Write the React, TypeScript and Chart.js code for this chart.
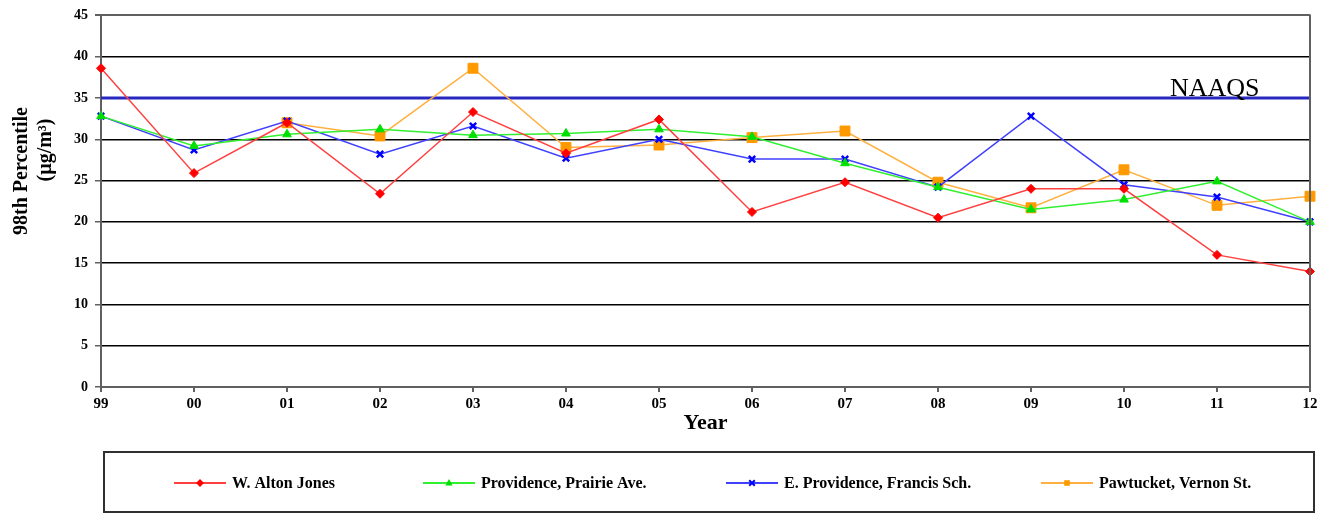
import React, { useEffect, useRef } from 'react';
import { Chart, registerables } from 'chart.js';

Chart.register(...registerables);

const years = ['99', '00', '01', '02', '03', '04', '05', '06', '07', '08', '09', '10', '11', '12'];
const altonJones = [38.6, 25.9, 32.0, 23.4, 33.3, 28.3, 32.4, 21.2, 24.8, 20.5, 24.0, 24.0, 16.0, 14.0];
const prairieAve = [32.8, 29.2, 30.6, 31.2, 30.5, 30.7, 31.2, 30.3, 27.1, 24.2, 21.5, 22.7, 24.9, 20.0];
const francisSch = [32.8, 28.7, 32.2, 28.2, 31.6, 27.7, 30.0, 27.6, 27.6, 24.2, 32.8, 24.5, 23.0, 20.0];
const vernonSt = [null, null, 32.0, 30.4, 38.6, 29.0, 29.3, 30.2, 31.0, 24.8, 21.7, 26.3, 22.0, 23.1];
const seriesLabels = ['W. Alton Jones', 'Providence, Prairie Ave.', 'E. Providence, Francis Sch.', 'Pawtucket, Vernon St.'];
const naaqsLevel = 35;
const naaqsLabel = 'NAAQS';
const yTitleLines = ['98th Percentile', '(\u00b5g/m\u00b3)'];
const xTitle = 'Year';

const SERIF = '"Liberation Serif", "Times New Roman", serif';

function drawMarker(ctx: CanvasRenderingContext2D, style: string, x: number, y: number, r: number, color: string) {
  ctx.save();
  ctx.fillStyle = color;
  ctx.strokeStyle = color;
  ctx.beginPath();
  if (style === 'rectRot') {
    ctx.moveTo(x, y - r); ctx.lineTo(x + r, y); ctx.lineTo(x, y + r); ctx.lineTo(x - r, y); ctx.closePath(); ctx.fill();
  } else if (style === 'triangle') {
    ctx.moveTo(x, y - r); ctx.lineTo(x + r * 0.9, y + r * 0.6); ctx.lineTo(x - r * 0.9, y + r * 0.6); ctx.closePath(); ctx.fill();
  } else if (style === 'crossRot') {
    ctx.lineWidth = 2;
    ctx.moveTo(x - r * 0.7, y - r * 0.7); ctx.lineTo(x + r * 0.7, y + r * 0.7);
    ctx.moveTo(x + r * 0.7, y - r * 0.7); ctx.lineTo(x - r * 0.7, y + r * 0.7); ctx.stroke();
  } else {
    ctx.rect(x - r * 0.7, y - r * 0.7, r * 1.4, r * 1.4); ctx.fill();
  }
  ctx.restore();
}

const legendStarts = [174, 423, 726, 1041];

const decorPlugin = {
  id: 'decor',
  afterDraw(chart: any) {
    const { ctx, chartArea, scales } = chart;
    ctx.save();
    // right border
    ctx.strokeStyle = '#606060';
    ctx.lineWidth = 2;
    ctx.beginPath();
    ctx.moveTo(chartArea.right, chartArea.top - 1);
    ctx.lineTo(chartArea.right, chartArea.bottom);
    ctx.stroke();

    // NAAQS label
    const yN = scales.y.getPixelForValue(naaqsLevel);
    ctx.font = '26px ' + SERIF;
    ctx.fillStyle = '#000';
    ctx.textAlign = 'left';
    ctx.textBaseline = 'alphabetic';
    ctx.fillText(naaqsLabel, chartArea.right - 140, yN - 2);

    // Y title
    ctx.font = 'bold 20px ' + SERIF;
    ctx.textAlign = 'center';
    ctx.textBaseline = 'middle';
    const yCenters = [171, 150];
    const xCenters = [22, 46];
    yTitleLines.forEach((line, i) => {
      ctx.save();
      ctx.translate(xCenters[i], yCenters[i]);
      ctx.rotate(-Math.PI / 2);
      ctx.fillText(line, 0, 0);
      ctx.restore();
    });

    // Legend box
    const boxL = 104, boxT = 452, boxR = 1314, boxB = 512;
    ctx.strokeStyle = '#303030';
    ctx.lineWidth = 2;
    ctx.strokeRect(boxL, boxT, boxR - boxL, boxB - boxT);
    const cy = 483;
    chart.data.datasets.slice(0, 4).forEach((ds: any, i: number) => {
      const x0 = legendStarts[i];
      ctx.strokeStyle = ds.borderColor;
      ctx.lineWidth = 2;
      ctx.beginPath();
      ctx.moveTo(x0, cy);
      ctx.lineTo(x0 + 52, cy);
      ctx.stroke();
      drawMarker(ctx, ds.pointStyle, x0 + 26, cy, 4, ds.pointBackgroundColor);
      ctx.font = 'bold 16px ' + SERIF;
      ctx.fillStyle = '#000';
      ctx.textAlign = 'left';
      ctx.textBaseline = 'middle';
      ctx.fillText(ds.label, x0 + 58, cy + 1);
    });
    ctx.restore();
  },
};

export default function App() {
  const ref = useRef<HTMLCanvasElement | null>(null);
  useEffect(() => {
    if (!ref.current) return;
    const chart = new Chart(ref.current, {
      type: 'line',
      data: {
        labels: years,
        datasets: [
          {
            label: seriesLabels[0], data: altonJones,
            borderColor: '#ff4040', backgroundColor: '#ff0000', borderWidth: 1.5,
            pointStyle: 'rectRot', pointRadius: 4.5, pointBackgroundColor: '#ff0000', pointBorderColor: '#ff0000', pointBorderWidth: 1,
          },
          {
            label: seriesLabels[1], data: prairieAve,
            borderColor: '#30f030', backgroundColor: '#00e000', borderWidth: 1.5,
            pointStyle: 'triangle', pointRadius: 5, pointBackgroundColor: '#00e000', pointBorderColor: '#00e000', pointBorderWidth: 1,
          },
          {
            label: seriesLabels[2], data: francisSch,
            borderColor: '#4040ff', backgroundColor: '#0000ff', borderWidth: 1.5,
            pointStyle: 'crossRot', pointRadius: 4.5, pointBackgroundColor: '#0000ff', pointBorderColor: '#0000ff', pointBorderWidth: 2.5,
          },
          {
            label: seriesLabels[3], data: vernonSt,
            borderColor: '#ffb040', backgroundColor: '#ff9900', borderWidth: 1.5,
            pointStyle: 'rect', pointRadius: 7, pointBackgroundColor: '#ff9900', pointBorderColor: '#ff9900', pointBorderWidth: 1,
          },
          {
            label: naaqsLabel, data: years.map(() => naaqsLevel),
            borderColor: '#2828c0', borderWidth: 3, pointRadius: 0, pointHoverRadius: 0,
          },
        ],
      },
      options: {
        responsive: false,
        animation: false,
        layout: { padding: { top: 15, left: 0, right: 24, bottom: 78 } },
        plugins: { legend: { display: false }, tooltip: { enabled: false } },
        scales: {
          x: {
            offset: false,
            grid: { display: true, drawOnChartArea: false, tickLength: 5, color: '#606060', lineWidth: 2 },
            border: { color: '#606060', width: 2 },
            ticks: {
              autoSkip: false, maxRotation: 0, padding: 3, color: '#000',
              font: { family: SERIF, size: 15, weight: 'bold' },
            },
            title: {
              display: true, text: xTitle, color: '#000',
              font: { family: SERIF, size: 22, weight: 'bold' }, padding: { top: 0, bottom: 0 },
            },
            afterFit: (scale: any) => { scale.height = 50; },
          },
          y: {
            min: 0, max: 45,
            grid: {
              color: (c: any) => (c.tick && c.tick.value === 45 ? '#606060' : '#000000'),
              lineWidth: (c: any) => (c.tick && c.tick.value === 45 ? 2 : 1.5),
              tickColor: '#606060', tickLength: 6,
            },
            border: { color: '#606060', width: 2 },
            ticks: {
              stepSize: 5, padding: 7, color: '#000',
              font: { family: SERIF, size: 14, weight: 'bold' },
            },
            afterFit: (scale: any) => { scale.width = 101; },
          },
        },
      },
      plugins: [decorPlugin],
    } as any);
    return () => chart.destroy();
  }, []);
  return (
    <div style={{ position: 'absolute', left: 0, top: 0, width: 1334, height: 515, background: '#fff' }}>
      <canvas ref={ref} width={1334} height={515} style={{ display: 'block' }} />
    </div>
  );
}
